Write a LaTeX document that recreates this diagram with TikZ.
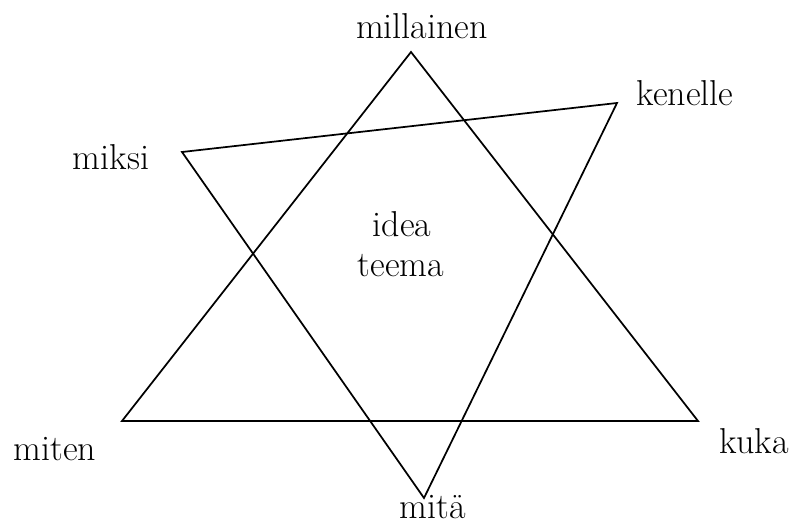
\documentclass[tikz,border=0pt]{standalone}
\usepackage{fontspec}
\usetikzlibrary{positioning}

\begin{document}
\begin{tikzpicture}[
  x=0.75pt, y=-0.75pt,
  wordlbl/.style={
    anchor=base, inner sep=0pt,
    font=\fontsize{27}{32}\selectfont
  },
  tri/.style={line width=1.3pt, line join=miter, black}
]
\useasboundingbox (0,0) rectangle (793,525);

% upward triangle
\coordinate (top)   at (411,52);
\coordinate (left)  at (122,421);
\coordinate (right) at (698,421);
% tilted triangle
\coordinate (tl)    at (182,152);
\coordinate (tr)    at (617,103);
\coordinate (bot)   at (424,498);

\draw[tri] (top) -- (left) -- (right) -- cycle;
\draw[tri] (tl) -- (tr) -- (bot) -- cycle;

\node[wordlbl] (millainen) at (422,38)  {millainen};
\node[wordlbl] (kenelle)   at (685,105) {kenelle};
\node[wordlbl] (miksi)     at (111,169) {miksi};
\node[wordlbl] (miten)     at (55,460)  {miten};
\node[wordlbl] (kuka)      at (754,453) {kuka};
\node[wordlbl] (mita)      at (433,518) {mitä};

\node[wordlbl] (idea)  at (402,236) {idea};
\node[wordlbl] (teema) at (401,276) {teema};
\end{tikzpicture}
\end{document}
